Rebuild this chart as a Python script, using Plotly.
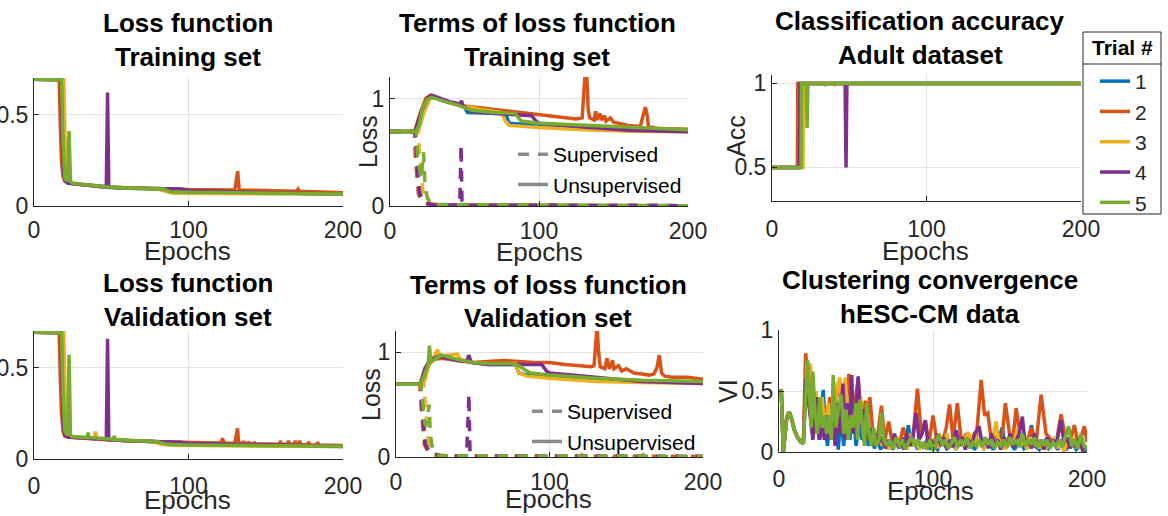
import plotly.graph_objects as go

W, H = 1168, 516
COLORS = ["#0072BD", "#D95319", "#EDB120", "#7E2F8E", "#77AC30"]
TRIAL_NAMES = ["1", "2", "3", "4", "5"]
FONT = "Liberation Sans, Arial, Helvetica, sans-serif"
INK = "#262626"
GRID = "#e2e2e2"
LW = 3.5

X_TICKS = [0, 100, 200]
X_TICKTEXT = ["0", "100", "200"]

# ---------------- Panel 1: loss function, training set (epoch, loss) ----------------
TRAIN_LOSS_T1 = [(0, 0.693), (17.5, 0.69), (18.3, 0.4), (19, 0.2), (20, 0.14), (22, 0.125), (30, 0.118),
                 (47, 0.103), (60, 0.097), (85, 0.092), (90, 0.08), (100, 0.078), (150, 0.072), (200, 0.066)]
TRAIN_LOSS_T2 = [(0, 0.693), (16.3, 0.69), (17, 0.45), (17.8, 0.25), (18.8, 0.16), (20, 0.135), (22, 0.125),
                 (47, 0.103), (85, 0.095), (100, 0.09), (130, 0.088), (131, 0.15), (131.8, 0.19), (132.8, 0.088),
                 (150, 0.083), (170, 0.08), (171, 0.093), (172, 0.08), (200, 0.072)]
TRAIN_LOSS_T3 = [(0, 0.693), (19.3, 0.69), (20, 0.4), (20.8, 0.2), (21.8, 0.14), (24, 0.125), (40, 0.11),
                 (60, 0.098), (80, 0.093), (85, 0.08), (90, 0.07), (120, 0.068), (200, 0.064)]
TRAIN_LOSS_T4 = [(0, 0.693), (17.5, 0.69), (18.3, 0.4), (19, 0.2), (20, 0.14), (22, 0.125), (46.8, 0.105),
                 (47.6, 0.62), (48.4, 0.104), (60, 0.098), (95, 0.093), (100, 0.085), (150, 0.072), (200, 0.066)]
TRAIN_LOSS_T5 = [(0, 0.693), (17.8, 0.69), (18.8, 0.35), (20, 0.15), (21.8, 0.135), (22.7, 0.41), (23.6, 0.135),
                 (25, 0.125), (47, 0.105), (60, 0.098), (84, 0.093), (88, 0.078), (100, 0.075), (150, 0.07),
                 (200, 0.065)]

# ---------------- Panel 4: loss function, validation set ----------------
VAL_LOSS_T1 = [(0, 0.693), (17.5, 0.69), (18.3, 0.4), (19, 0.2), (20, 0.13), (22, 0.12), (30, 0.116),
               (47, 0.106), (60, 0.1), (80, 0.094), (86, 0.08), (100, 0.078), (150, 0.073), (200, 0.069)]
VAL_LOSS_T2 = [(0, 0.693), (16.3, 0.69), (17, 0.45), (17.8, 0.25), (18.8, 0.15), (20, 0.125), (23, 0.119),
               (47, 0.105), (80, 0.095), (100, 0.09), (121, 0.088), (122, 0.113), (123, 0.088), (130, 0.086),
               (131, 0.15), (131.7, 0.168), (132.5, 0.086), (135, 0.086), (135.6, 0.097), (136.3, 0.085),
               (138.3, 0.085), (138.8, 0.095), (139.4, 0.085), (142, 0.084), (142.5, 0.094), (143, 0.084),
               (159, 0.08), (159.4, 0.1), (160, 0.08), (164.2, 0.08), (164.7, 0.1), (165.3, 0.08),
               (168.6, 0.08), (169, 0.1), (169.6, 0.08), (171.4, 0.08), (171.9, 0.1), (172.5, 0.079),
               (177.2, 0.078), (177.7, 0.095), (178.3, 0.078), (183.1, 0.077), (183.6, 0.093), (184.2, 0.077),
               (200, 0.074)]
VAL_LOSS_T3 = [(0, 0.693), (19.3, 0.69), (20, 0.4), (20.8, 0.2), (21.8, 0.14), (24, 0.122), (39, 0.115),
               (39.8, 0.15), (40.6, 0.115), (60, 0.1), (78, 0.094), (82, 0.08), (90, 0.075), (200, 0.068)]
VAL_LOSS_T4 = [(0, 0.693), (17.5, 0.69), (18.3, 0.4), (19, 0.2), (20, 0.13), (22, 0.12), (46.8, 0.108),
               (47.6, 0.657), (48.4, 0.106), (60, 0.1), (95, 0.092), (100, 0.085), (200, 0.07)]
VAL_LOSS_T5 = [(0, 0.693), (17.8, 0.69), (18.8, 0.35), (20, 0.15), (21.8, 0.13), (22.7, 0.57), (23.6, 0.13),
               (25, 0.122), (34.3, 0.118), (35, 0.144), (35.7, 0.118), (51.2, 0.108), (51.9, 0.126),
               (52.6, 0.106), (80, 0.095), (86, 0.08), (100, 0.077), (200, 0.07)]

# ---------------- Panel 2: terms of loss, training set ----------------
TRAIN_UNSUP_T1 = [(0, 0.693), (17, 0.693), (21, 0.85), (25, 0.98), (28, 1.02), (35, 0.98), (45, 0.95),
                  (50, 0.92), (52, 0.87), (75, 0.86), (78, 0.84), (80, 0.77), (100, 0.75), (150, 0.72), (200, 0.70)]
TRAIN_UNSUP_T2 = [(0, 0.693), (16.5, 0.693), (20, 0.85), (24, 1.0), (27, 1.03), (35, 0.98), (50, 0.93),
                  (70, 0.9), (90, 0.87), (100, 0.85), (115, 0.83), (125, 0.81), (129, 0.82), (130, 1.0),
                  (131, 1.25), (132, 1.25), (133, 0.9), (134, 0.82), (137, 0.8), (138, 0.88), (139, 0.8),
                  (141, 0.86), (142, 0.8), (144, 0.84), (145, 0.79), (148, 0.82), (150, 0.78), (160, 0.75),
                  (168, 0.74), (170, 0.85), (171.4, 0.92), (172.5, 0.85), (173.5, 0.74), (180, 0.72),
                  (190, 0.72), (200, 0.715)]
TRAIN_UNSUP_T3 = [(0, 0.693), (19, 0.693), (23, 0.88), (27, 1.0), (30, 1.01), (40, 0.96), (50, 0.93),
                  (60, 0.9), (75, 0.87), (77, 0.8), (80, 0.75), (100, 0.73), (130, 0.71), (160, 0.695),
                  (200, 0.69)]
TRAIN_UNSUP_T4 = [(0, 0.693), (17, 0.693), (21, 0.88), (25, 1.0), (28, 1.03), (40, 0.97), (47, 0.95),
                  (48, 0.98), (49, 0.93), (55, 0.88), (70, 0.86), (90, 0.85), (95, 0.84), (98, 0.79),
                  (100, 0.77), (130, 0.735), (160, 0.705), (200, 0.69)]
TRAIN_UNSUP_T5 = [(0, 0.693), (17.5, 0.693), (19.5, 0.75), (22, 0.92), (25, 0.99), (28, 1.01), (35, 0.98),
                  (45, 0.94), (55, 0.89), (70, 0.87), (84, 0.86), (88, 0.79), (100, 0.77), (130, 0.75),
                  (160, 0.73), (200, 0.71)]
TRAIN_SUP_T1 = [(0, 0.693), (17, 0.693), (18, 0.45), (19, 0.25), (20, 0.12), (22, 0.05), (25, 0.02),
                (30, 0.01), (200, 0.003)]
TRAIN_SUP_T2 = [(0, 0.693), (16.5, 0.693), (17, 0.45), (18, 0.25), (19, 0.12), (21, 0.05), (25, 0.02),
                (30, 0.01), (100, 0.005), (200, 0.003)]
TRAIN_SUP_T3 = [(0, 0.693), (19, 0.693), (20, 0.45), (21, 0.3), (22, 0.15), (24, 0.05), (28, 0.02),
                (35, 0.01), (200, 0.003)]
TRAIN_SUP_T4 = [(0, 0.693), (17, 0.693), (18, 0.4), (19, 0.2), (20, 0.1), (23, 0.03), (30, 0.01),
                (46.8, 0.008), (47.3, 0.3), (47.7, 0.57), (48.3, 0.05), (49, 0.008), (200, 0.003)]
TRAIN_SUP_T5 = [(0, 0.693), (17.5, 0.693), (18.5, 0.45), (20, 0.3), (21, 0.25), (22.5, 0.5), (23.5, 0.18),
                (25, 0.08), (27, 0.03), (30, 0.015), (200, 0.003)]

# ---------------- Panel 5: terms of loss, validation set ----------------
VAL_UNSUP_T1 = [(0, 0.693), (16, 0.693), (19, 0.8), (22, 0.9), (25, 0.95), (30, 0.96), (40, 0.93),
                (50, 0.9), (60, 0.88), (78, 0.88), (80, 0.8), (85, 0.78), (100, 0.76), (150, 0.73), (200, 0.71)]
VAL_UNSUP_T2 = [(0, 0.693), (15.5, 0.693), (18, 0.8), (21, 0.9), (25, 0.93), (30, 0.94), (40, 0.92),
                (50, 0.9), (60, 0.91), (70, 0.92), (80, 0.91), (90, 0.9), (100, 0.9), (110, 0.88),
                (120, 0.87), (127, 0.86), (129, 0.87), (130, 1.1), (131, 1.25), (132, 1.0), (133, 0.86),
                (136, 0.84), (137.5, 0.94), (139, 0.84), (140, 0.87), (141, 0.92), (142, 0.84), (145, 0.87),
                (147, 0.82), (150, 0.84), (155, 0.8), (160, 0.79), (165, 0.78), (168, 0.79), (170, 0.85),
                (171.5, 0.97), (173, 0.8), (175, 0.77), (180, 0.76), (190, 0.76), (200, 0.74)]
VAL_UNSUP_T3 = [(0, 0.693), (18, 0.693), (21, 0.85), (24, 0.93), (27, 1.02), (29, 0.96), (35, 0.97),
                (40, 0.98), (42, 0.93), (50, 0.9), (60, 0.88), (78, 0.89), (80, 0.8), (85, 0.77),
                (100, 0.75), (130, 0.72), (160, 0.71), (200, 0.70)]
VAL_UNSUP_T4 = [(0, 0.693), (16, 0.693), (19, 0.85), (23, 0.93), (28, 0.96), (40, 0.92), (46, 0.91),
                (47.5, 0.97), (49, 0.9), (60, 0.88), (80, 0.88), (95, 0.88), (98, 0.82), (100, 0.8),
                (130, 0.76), (160, 0.72), (200, 0.70)]
VAL_UNSUP_T5 = [(0, 0.693), (16, 0.693), (19, 0.8), (21, 0.88), (21.8, 1.06), (22.6, 0.9), (26, 0.94),
                (30, 0.97), (35, 0.95), (40, 0.93), (50, 0.9), (60, 0.89), (75, 0.89), (80, 0.87),
                (85, 0.82), (88, 0.8), (100, 0.78), (130, 0.75), (160, 0.73), (200, 0.72)]
VAL_SUP_T1 = [(0, 0.693), (16, 0.693), (17, 0.5), (18, 0.3), (19, 0.15), (21, 0.06), (25, 0.02),
              (30, 0.01), (200, 0.005)]
VAL_SUP_T2 = [(0, 0.693), (15.5, 0.693), (16.5, 0.45), (17.5, 0.25), (18.5, 0.12), (21, 0.04), (25, 0.02),
              (30, 0.01), (120, 0.008), (121, 0.02), (122, 0.008), (140, 0.008), (141, 0.02), (142, 0.008),
              (160, 0.008), (161, 0.02), (162, 0.008), (175, 0.008), (176, 0.02), (177, 0.008), (200, 0.008)]
VAL_SUP_T3 = [(0, 0.693), (18, 0.693), (19, 0.5), (20, 0.3), (21, 0.15), (23, 0.05), (27, 0.02),
              (35, 0.01), (200, 0.005)]
VAL_SUP_T4 = [(0, 0.693), (16, 0.693), (17, 0.45), (18, 0.25), (19, 0.12), (22, 0.04), (30, 0.01),
              (46, 0.01), (46.8, 0.3), (47.5, 0.6), (48.2, 0.05), (49, 0.01), (200, 0.004)]
VAL_SUP_T5 = [(0, 0.693), (16, 0.693), (17.5, 0.5), (19, 0.3), (20.5, 0.35), (21.5, 0.5), (22.5, 0.2),
              (24, 0.06), (27, 0.02), (30, 0.012), (200, 0.005)]

# ---------------- Panel 3: classification accuracy ----------------
ACC_T1 = [(0, 0.5), (17.5, 0.5), (17.8, 1), (200, 1)]
ACC_T2 = [(0, 0.5), (16.4, 0.5), (16.7, 1), (200, 1)]
ACC_T3 = [(0, 0.5), (20.1, 0.5), (20.4, 1), (40, 1), (40.5, 0.985), (41, 1), (200, 1)]
ACC_T4 = [(0, 0.5), (17.8, 0.5), (18.1, 1), (47.3, 1), (47.9, 0.5), (48.5, 1), (200, 1)]
ACC_T5 = [(0, 0.5), (18.8, 0.5), (19.1, 1), (22.1, 1), (22.7, 0.735), (23.3, 1), (34, 1), (34.5, 0.985),
          (35, 1), (200, 1)]

# ---------------- Panel 6: clustering convergence (VI) ----------------
VI_START = [(0, 0.5), (1.5, 0.5), (2.8, 0.0), (4, 0.15), (5, 0.28), (6.5, 0.33), (8, 0.28), (10, 0.18),
            (12, 0.12), (14, 0.085), (15.8, 0.07)]
VI_T1 = [(17.8, 0.7), (19.5, 0.4), (21, 0.25), (22.5, 0.15), (24, 0.35), (26, 0.1), (28.7, 0.51), (30, 0.2),
         (31.5, 0.05), (33, 0.3), (35, 0.1), (37, 0.35), (38.5, 0.02), (40, 0.3), (42, 0.05), (44, 0.35),
         (46, 0.1), (48, 0.4), (50, 0.05), (52, 0.2), (54, 0.1), (56, 0.3), (58, 0.05), (60, 0.15), (62, 0.03),
         (64, 0.1), (66, 0.02), (68, 0.12), (70, 0.03), (72, 0.08), (74, 0.02), (76, 0.1), (78, 0.03),
         (80, 0.12), (82, 0.05), (84, 0.22), (86, 0.05), (88, 0.1), (90, 0.02), (92, 0.08), (94, 0.03),
         (96, 0.1), (98, 0.02), (100, 0.06), (103, 0.02), (106, 0.1), (109, 0.03), (112, 0.08), (115, 0.02),
         (118, 0.1), (121, 0.04), (124, 0.12), (127, 0.02), (130, 0.08), (133, 0.03), (136, 0.1), (139, 0.02),
         (142, 0.08), (145, 0.2), (147, 0.03), (150, 0.08), (153, 0.02), (156, 0.1), (159, 0.03), (162, 0.08),
         (164, 0.22), (166, 0.05), (169, 0.02), (172, 0.1), (175, 0.03), (178, 0.08), (181, 0.02), (184, 0.1),
         (187, 0.03), (190, 0.08), (193, 0.02), (196, 0.06), (198, 0.01), (200, 0.02)]
VI_T2 = [(17.3, 0.81), (19, 0.6), (20.7, 0.35), (22.2, 0.25), (23.3, 0.45), (25, 0.3), (26.6, 0.13),
         (28.7, 0.35), (30.9, 0.2), (33, 0.45), (35.2, 0.2), (37.4, 0.45), (39.5, 0.55), (41, 0.3),
         (42.8, 0.25), (45.4, 0.64), (48.2, 0.3), (51.4, 0.6), (54, 0.2), (56, 0.42), (57.5, 0.3), (59, 0.45),
         (61, 0.15), (63.3, 0.05), (66.5, 0.38), (68.7, 0.1), (71.3, 0.25), (73.4, 0.08), (76, 0.12),
         (78, 0.05), (80.6, 0.2), (83.8, 0.08), (87, 0.12), (89.9, 0.52), (92.4, 0.15), (95, 0.26),
         (97.2, 0.06), (100, 0.3), (103, 0.05), (106.5, 0.1), (108.6, 0.2), (110.8, 0.39), (113, 0.1),
         (115.8, 0.4), (118.4, 0.08), (121.6, 0.15), (124.8, 0.05), (128, 0.1), (131.3, 0.59), (133.5, 0.3),
         (135.6, 0.32), (137.8, 0.1), (141, 0.12), (144.3, 0.05), (147, 0.4), (149.7, 0.15), (151.8, 0.1),
         (154, 0.36), (156.8, 0.1), (160.5, 0.05), (163.7, 0.2), (167, 0.08), (170.2, 0.47), (173.4, 0.15),
         (176.7, 0.1), (180, 0.08), (183.2, 0.31), (185.8, 0.12), (188.6, 0.07), (191.8, 0.22), (194.4, 0.05),
         (198.3, 0.21), (200, 0.08)]
VI_T3 = [(18.2, 0.72), (20.5, 0.71), (22, 0.3), (24, 0.5), (26, 0.2), (28, 0.45), (30, 0.15), (32, 0.4),
         (34, 0.2), (36, 0.3), (38, 0.55), (39.5, 0.61), (41, 0.3), (43, 0.61), (45, 0.25), (47, 0.45),
         (49, 0.2), (51, 0.35), (53, 0.45), (55, 0.15), (57, 0.3), (59, 0.1), (61, 0.2), (63, 0.05), (65, 0.15),
         (67, 0.05), (69, 0.1), (71, 0.02), (73, 0.08), (75, 0.03), (77, 0.12), (79, 0.04), (81, 0.1),
         (83, 0.02), (85, 0.15), (87, 0.05), (89, 0.1), (91, 0.02), (93, 0.08), (95, 0.03), (97, 0.1),
         (99, 0.05), (101, 0.12), (103, 0.03), (105, 0.1), (107, 0.05), (109, 0.15), (111, 0.04), (113, 0.1),
         (115, 0.02), (117, 0.08), (119, 0.05), (121, 0.12), (123, 0.16), (125, 0.1), (127, 0.16), (129, 0.05),
         (131, 0.1), (133, 0.02), (135, 0.08), (137, 0.05), (139, 0.12), (141, 0.25), (143, 0.05), (145, 0.1),
         (147, 0.02), (149, 0.12), (151, 0.05), (153, 0.1), (155, 0.2), (157, 0.05), (159, 0.1), (161, 0.02),
         (163, 0.12), (165, 0.05), (167, 0.1), (169, 0.03), (171, 0.1), (173, 0.02), (175, 0.08), (177, 0.05),
         (179, 0.12), (181, 0.03), (183, 0.1), (185, 0.0), (187, 0.08), (189, 0.05), (191, 0.12), (193, 0.03),
         (195, 0.1), (197, 0.02), (200, 0.05)]
VI_T4 = [(17.5, 0.6), (19, 0.45), (20.5, 0.3), (22, 0.1), (23.5, 0.3), (25, 0.45), (26.5, 0.1), (28, 0.25),
         (29.5, 0.1), (31, 0.3), (33, 0.1), (35, 0.25), (36.5, 0.05), (38, 0.4), (39.5, 0.15), (41.5, 0.56),
         (43, 0.1), (44.5, 0.4), (46, 0.25), (47.2, 0.63), (48.5, 0.15), (50, 0.3), (51.4, 0.62), (53, 0.2),
         (55, 0.35), (57, 0.1), (59, 0.2), (61, 0.05), (63, 0.15), (65, 0.08), (67, 0.12), (69, 0.03),
         (71, 0.1), (73, 0.05), (75, 0.15), (77, 0.05), (79, 0.1), (81, 0.02), (83, 0.15), (85, 0.05),
         (87, 0.12), (89, 0.32), (91, 0.1), (93, 0.15), (95, 0.26), (97, 0.05), (99, 0.1), (101, 0.03),
         (103, 0.15), (105, 0.05), (107, 0.12), (109, 0.02), (111, 0.1), (113, 0.04), (115, 0.18), (117, 0.05),
         (119, 0.12), (121, 0.02), (123, 0.1), (125, 0.05), (127, 0.15), (130, 0.21), (132, 0.05), (134, 0.12),
         (136, 0.03), (138, 0.15), (140, 0.05), (142, 0.1), (144, 0.02), (146, 0.12), (148, 0.05), (150, 0.15),
         (152, 0.04), (154, 0.1), (156, 0.15), (158, 0.29), (160, 0.05), (162, 0.1), (164, 0.03), (166, 0.15),
         (168, 0.05), (170, 0.1), (172, 0.02), (174, 0.12), (176, 0.05), (178, 0.1), (180, 0.05), (183, 0.26),
         (185, 0.08), (187, 0.12), (189, 0.03), (191, 0.1), (193, 0.04), (195, 0.12), (197, 0.02), (200, 0.05)]
VI_T5 = [(18.6, 0.755), (20, 0.35), (21, 0.2), (22, 0.66), (23.5, 0.3), (25, 0.15), (26.5, 0.45), (28, 0.2),
         (29.5, 0.3), (31, 0.15), (32.5, 0.3), (34, 0.1), (35.2, 0.63), (37, 0.2), (38.5, 0.35), (40.5, 0.47),
         (42, 0.15), (43.5, 0.35), (45, 0.1), (46.5, 0.3), (48, 0.2), (50, 0.4), (51, 0.1), (52.5, 0.43),
         (54, 0.2), (55.5, 0.05), (57, 0.4), (58.5, 0.15), (60, 0.05), (61.5, 0.2), (63, 0.05), (65, 0.1),
         (66.5, 0.32), (68, 0.1), (70, 0.05), (72, 0.1), (74, 0.03), (76, 0.12), (78, 0.05), (80, 0.1),
         (82, 0.02), (84, 0.08), (86, 0.12), (88, 0.05), (90, 0.1), (92, 0.04), (94, 0.08), (96, 0.02),
         (98, 0.1), (100, 0.01), (102, 0.08), (104, 0.15), (106, 0.05), (108, 0.1), (110, 0.03), (112, 0.08),
         (114, 0.12), (116, 0.04), (118, 0.1), (120, 0.05), (122, 0.12), (124, 0.03), (126, 0.08), (128, 0.05),
         (130, 0.1), (132, 0.04), (134, 0.12), (136, 0.06), (138, 0.1), (140, 0.03), (142, 0.08), (144, 0.05),
         (146, 0.1), (148, 0.04), (150, 0.12), (152, 0.06), (154, 0.1), (156, 0.04), (158, 0.15), (160, 0.05),
         (162, 0.1), (164, 0.06), (166, 0.12), (168, 0.04), (170, 0.1), (172, 0.05), (174, 0.1), (176, 0.03),
         (178, 0.08), (180, 0.05), (182, 0.1), (184, 0.04), (186, 0.13), (188, 0.21), (190, 0.05), (192, 0.1),
         (194, 0.03), (196, 0.15), (198, 0.05), (200, 0.02)]

TRAIN_LOSS = [TRAIN_LOSS_T1, TRAIN_LOSS_T2, TRAIN_LOSS_T3, TRAIN_LOSS_T4, TRAIN_LOSS_T5]
VAL_LOSS = [VAL_LOSS_T1, VAL_LOSS_T2, VAL_LOSS_T3, VAL_LOSS_T4, VAL_LOSS_T5]
TRAIN_UNSUP = [TRAIN_UNSUP_T1, TRAIN_UNSUP_T2, TRAIN_UNSUP_T3, TRAIN_UNSUP_T4, TRAIN_UNSUP_T5]
TRAIN_SUP = [TRAIN_SUP_T1, TRAIN_SUP_T2, TRAIN_SUP_T3, TRAIN_SUP_T4, TRAIN_SUP_T5]
VAL_UNSUP = [VAL_UNSUP_T1, VAL_UNSUP_T2, VAL_UNSUP_T3, VAL_UNSUP_T4, VAL_UNSUP_T5]
VAL_SUP = [VAL_SUP_T1, VAL_SUP_T2, VAL_SUP_T3, VAL_SUP_T4, VAL_SUP_T5]
ACC = [ACC_T1, ACC_T2, ACC_T3, ACC_T4, ACC_T5]
VI = [VI_START + s for s in (VI_T1, VI_T2, VI_T3, VI_T4, VI_T5)]

# ---------------- layout helpers (pixel boxes of each axes) ----------------
def fx(p):
    return p / W


def fy(p):
    return 1 - p / H


PANELS = {
    1: dict(x=(34, 343), y=(78, 206), yr=[0, 0.7], yt=[0, 0.5], ytt=["0", "0.5"], so=3),
    2: dict(x=(390, 688), y=(77, 206), yr=[0, 1.2], yt=[0, 1], ytt=["0", "1"], so=4),
    3: dict(x=(772, 1081), y=(75, 201), yr=[0.3, 1.05], yt=[0.5, 1], ytt=["0.5", "1"], so=7),
    4: dict(x=(34, 343), y=(331, 459), yr=[0, 0.7], yt=[0, 0.5], ytt=["0", "0.5"], so=6),
    5: dict(x=(396, 703), y=(331, 457), yr=[0, 1.2], yt=[0, 1], ytt=["0", "1"], so=4),
    6: dict(x=(779, 1087), y=(330, 452), yr=[0, 1], yt=[0, 0.5, 1], ytt=["0", "0.5", "1"], so=6),
}

fig = go.Figure()
layout_axes = {}
for i, p in PANELS.items():
    s = "" if i == 1 else str(i)
    common = dict(showgrid=True, gridcolor=GRID, gridwidth=1, showline=True, linecolor=INK, linewidth=1,
                  ticks="inside", ticklen=5, tickcolor=INK, tickwidth=1, zeroline=False, automargin=False,
                  tickfont=dict(family=FONT, size=23, color=INK), fixedrange=True)
    layout_axes["xaxis" + s] = dict(domain=[fx(p["x"][0]), fx(p["x"][1])], anchor="y" + s, range=[0, 200],
                                    tickmode="array", tickvals=X_TICKS, ticktext=X_TICKTEXT,
                                    ticklabelstandoff=p["so"], **common)
    layout_axes["yaxis" + s] = dict(domain=[fy(p["y"][1]), fy(p["y"][0])], anchor="x" + s, range=p["yr"],
                                    tickmode="array", tickvals=p["yt"], ticktext=p["ytt"], **common)
fig.update_layout(**layout_axes)


def add_series(panel, pts, color, dash="solid", name=None, showlegend=False, legend="legend"):
    s = "" if panel == 1 else str(panel)
    fig.add_trace(go.Scatter(
        x=[q[0] for q in pts], y=[q[1] for q in pts], mode="lines",
        line=dict(color=color, width=LW, dash=dash), name=name, showlegend=showlegend,
        legend=legend, xaxis="x" + s, yaxis="y" + s, hoverinfo="skip"))


DASH = "11px,9px"
for k in range(5):
    add_series(1, TRAIN_LOSS[k], COLORS[k])
    add_series(4, VAL_LOSS[k], COLORS[k])
    add_series(3, ACC[k], COLORS[k], name=TRIAL_NAMES[k], showlegend=True, legend="legend")
    add_series(6, VI[k], COLORS[k])
for k in range(5):
    add_series(2, TRAIN_SUP[k], COLORS[k], dash=DASH)
    add_series(2, TRAIN_UNSUP[k], COLORS[k])
    add_series(5, VAL_SUP[k], COLORS[k], dash=DASH)
    add_series(5, VAL_UNSUP[k], COLORS[k])

# legend keys for the dashed / solid convention
LEG_GRAY = "#8a8a8a"
for panel, leg in ((2, "legend2"), (5, "legend3")):
    s = str(panel)
    fig.add_trace(go.Scatter(x=[None], y=[None], mode="lines", name="Supervised", legend=leg,
                             line=dict(color=LEG_GRAY, width=LW, dash=DASH), xaxis="x" + s, yaxis="y" + s))
    fig.add_trace(go.Scatter(x=[None], y=[None], mode="lines", name="Unsupervised", legend=leg,
                             line=dict(color=LEG_GRAY, width=LW), xaxis="x" + s, yaxis="y" + s))

# titles: (text, centre x, centre y) for each line
TITLE_LINES = [
    ("Loss function", 188, 23), ("Training set", 188, 57),
    ("Terms of loss function", 537, 23), ("Training set", 537, 57),
    ("Classification accuracy", 920, 21), ("Adult dataset", 920, 55),
    ("Loss function", 188, 283), ("Validation set", 188, 317),
    ("Terms of loss function", 548, 285), ("Validation set", 548, 318),
    ("Clustering convergence", 930, 280), ("hESC-CM data", 930, 314),
]
ann = []
for txt, cx, cy in TITLE_LINES:
    ann.append(dict(text="<b>" + txt + "</b>", x=fx(cx), y=fy(cy), xref="paper", yref="paper",
                    xanchor="center", yanchor="middle", showarrow=False,
                    font=dict(family=FONT, size=26, color="black")))

XLABELS = [(187, 251), (539, 252), (925, 251), (187, 500), (548, 499), (930, 491)]
for cx, cy in XLABELS:
    ann.append(dict(text="Epochs", x=fx(cx), y=fy(cy), xref="paper", yref="paper", xanchor="center",
                    yanchor="middle", showarrow=False, font=dict(family=FONT, size=26, color=INK)))

YLABELS = [("Loss", 368, 142), ("Acc", 736, 136), ("Loss", 371, 395), ("VI", 728, 391)]
for txt, cx, cy in YLABELS:
    ann.append(dict(text=txt, x=fx(cx), y=fy(cy), xref="paper", yref="paper", xanchor="center",
                    yanchor="middle", textangle=-90, showarrow=False, font=dict(family=FONT, size=25, color=INK)))

# legend heading for the trial legend
ann.append(dict(text="<b>Trial #</b>", x=fx(1122), y=fy(48), xref="paper", yref="paper", xanchor="center",
                yanchor="middle", showarrow=False, font=dict(family=FONT, size=21, color="black")))

fig.update_layout(
    width=W, height=H, autosize=False, margin=dict(l=0, r=0, t=0, b=0, pad=0, autoexpand=False),
    paper_bgcolor="white", plot_bgcolor="white", annotations=ann,
    font=dict(family=FONT, color=INK),
    legend=dict(x=fx(1095), y=fy(61), xanchor="left", yanchor="top", bgcolor="rgba(0,0,0,0)",
                borderwidth=0, font=dict(family=FONT, size=21, color=INK), tracegroupgap=0),
    legend2=dict(x=fx(513), y=fy(134), xanchor="left", yanchor="top", bgcolor="rgba(0,0,0,0)", borderwidth=0,
                 font=dict(family=FONT, size=21, color="black"), tracegroupgap=0),
    legend3=dict(x=fx(527), y=fy(391), xanchor="left", yanchor="top", bgcolor="rgba(0,0,0,0)", borderwidth=0,
                 font=dict(family=FONT, size=21, color="black"), tracegroupgap=0),
    shapes=[
        dict(type="rect", xref="paper", yref="paper", x0=fx(1083), x1=fx(1161), y0=fy(214), y1=fy(32),
             line=dict(color=INK, width=1), fillcolor="rgba(0,0,0,0)"),
        dict(type="line", xref="paper", yref="paper", x0=fx(1083), x1=fx(1161), y0=fy(64), y1=fy(64),
             line=dict(color=INK, width=1)),
    ],
)

fig.write_html("out.html")
